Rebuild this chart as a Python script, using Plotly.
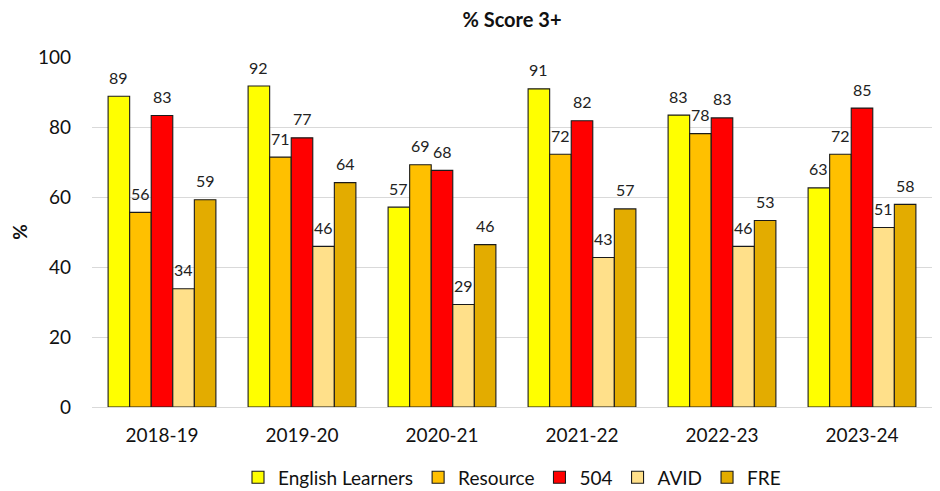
import plotly.graph_objects as go

years = ["2018-19", "2019-20", "2020-21", "2021-22", "2022-23", "2023-24"]
english_learners = [88.8, 91.7, 57.1, 90.9, 83.4, 62.6]
resource = [55.6, 71.4, 69.2, 72.2, 78.1, 72.2]
s504 = [83.3, 76.9, 67.6, 81.8, 82.6, 85.4]
avid = [33.8, 45.9, 29.3, 42.7, 45.9, 51.3]
fre = [59.2, 64.1, 46.4, 56.6, 53.3, 57.9]

series = [
    ("English Learners", english_learners, "#FFFF00"),
    ("Resource", resource, "#FFC000"),
    ("504", s504, "#FF0000"),
    ("AVID", avid, "#FFE08A"),
    ("FRE", fre, "#E3AC00"),
]

FONT = "Lato, Open Sans, sans-serif"
BARGAP = 0.23

fig = go.Figure()
n = len(series)
bar_w = (1 - BARGAP) / n
annotations = []
for si, (name, vals, color) in enumerate(series):
    fig.add_trace(go.Bar(
        name=name, x=years, y=vals,
        marker=dict(color=color, line=dict(color="#1a1a1a", width=1.1)),
    ))
    off = (si - (n - 1) / 2) * bar_w
    for gi, v in enumerate(vals):
        annotations.append(dict(
            x=gi + off, y=v, xref="x", yref="y", text=f"{v:.0f}",
            showarrow=False, yshift=19, yanchor="middle",
            font=dict(size=16, color="#222222", family=FONT),
        ))

fig.update_layout(
    width=940, height=491,
    barmode="group",
    bargap=BARGAP, bargroupgap=0,
    plot_bgcolor="white", paper_bgcolor="white",
    margin=dict(l=84, r=16, t=49, b=91.5, autoexpand=False),
    title=dict(text="<b>% Score 3+</b>", x=0.5, xanchor="center", xref="paper",
               y=0.975, yanchor="middle",
               font=dict(size=20, color="#111111", family=FONT)),
    font=dict(family=FONT, color="#111111"),
    legend=dict(orientation="h", x=0.5, xanchor="center", y=-0.201, yanchor="middle",
                font=dict(size=19, family=FONT), traceorder="normal",
                itemwidth=30, tracegroupgap=0),
    annotations=annotations,
)
fig.update_yaxes(
    range=[0, 100], dtick=20, showgrid=True, gridcolor="#D9D9D9", gridwidth=1.3,
    zeroline=True, zerolinecolor="#D9D9D9", zerolinewidth=1.3,
    tickfont=dict(size=19, family=FONT), ticklabelstandoff=20,
    title=dict(text="<b>%</b>", font=dict(size=19, family=FONT), standoff=10),
)
fig.update_xaxes(
    tickfont=dict(size=19, family=FONT), showline=False, ticks="",
    ticklabelstandoff=15,
)

fig.write_html("out.html")
